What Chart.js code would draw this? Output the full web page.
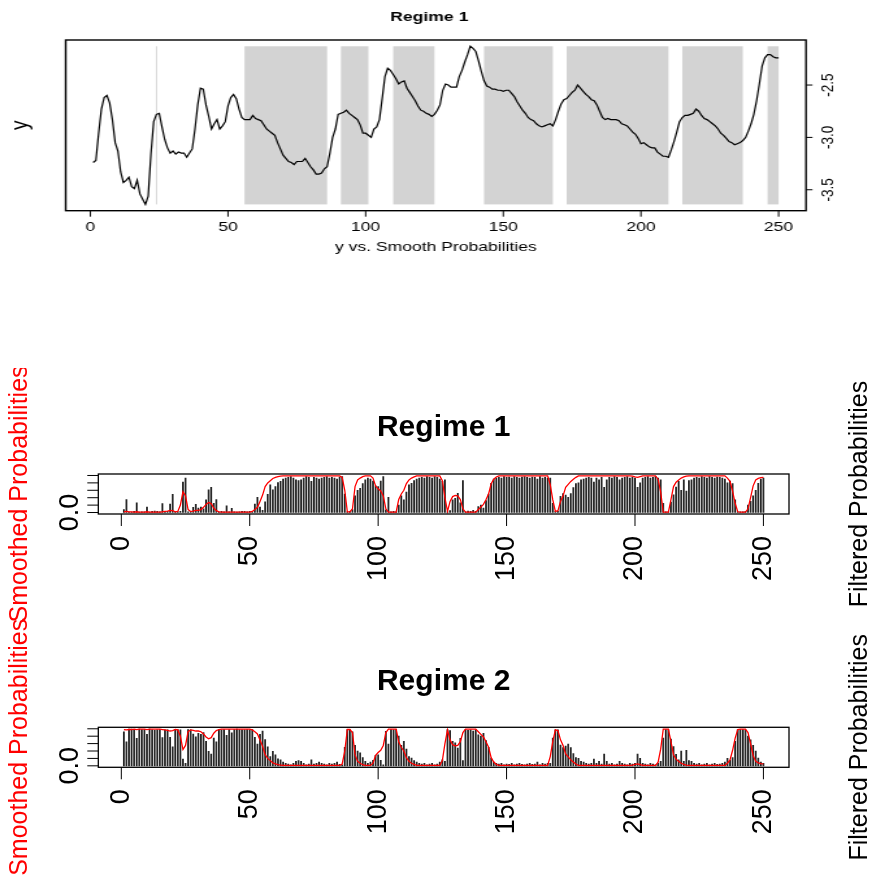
<!DOCTYPE html>
<html>
<head>
<meta charset="utf-8">
<script src="https://cdn.jsdelivr.net/npm/chart.js@4.4.0/dist/chart.umd.min.js"></script>
<style>
  html, body { margin: 0; padding: 0; background: #fff; }
  #wrap { position: relative; width: 872px; height: 880px; overflow: hidden; background: #fff; }
  canvas { position: absolute; left: 0; }
  /* the top panel is stretched sideways like in the original picture */
  #topChart { top: 0; transform: scaleX(1.2996); transform-origin: 0 0; }
  #chartA { top: 368px; }
  #chartB { top: 610px; }
</style>
</head>
<body>
<div id="wrap">
  <canvas id="topChart" width="671" height="262"></canvas>
  <canvas id="chartA" width="872" height="262"></canvas>
  <canvas id="chartB" width="872" height="270"></canvas>
</div>
<script>
// ---- data ----
var yValues = [
  -3.24,-3.22,-2.96,-2.73,-2.62,-2.60,-2.67,-2.83,-3.05,-3.13,
  -3.33,-3.43,-3.41,-3.38,-3.47,-3.49,-3.41,-3.54,-3.59,-3.64,
  -3.56,-3.16,-2.85,-2.78,-2.77,-2.90,-3.02,-3.10,-3.15,-3.13,
  -3.16,-3.14,-3.15,-3.15,-3.19,-3.15,-3.11,-2.92,-2.69,-2.53,
  -2.54,-2.69,-2.80,-2.92,-2.87,-2.83,-2.92,-2.89,-2.85,-2.70,
  -2.62,-2.59,-2.63,-2.73,-2.81,-2.83,-2.83,-2.83,-2.79,-2.82,
  -2.83,-2.84,-2.88,-2.92,-2.94,-2.96,-2.98,-3.05,-3.11,-3.17,
  -3.20,-3.23,-3.24,-3.26,-3.23,-3.23,-3.23,-3.20,-3.24,-3.28,
  -3.31,-3.35,-3.35,-3.34,-3.30,-3.28,-3.15,-3.00,-2.92,-2.78,
  -2.77,-2.76,-2.74,-2.77,-2.79,-2.81,-2.83,-2.88,-2.96,-2.96,
  -2.98,-3.00,-2.92,-2.90,-2.83,-2.63,-2.42,-2.34,-2.36,-2.40,
  -2.44,-2.49,-2.47,-2.46,-2.53,-2.57,-2.61,-2.65,-2.70,-2.74,
  -2.75,-2.77,-2.78,-2.80,-2.78,-2.74,-2.69,-2.55,-2.49,-2.50,
  -2.52,-2.52,-2.52,-2.42,-2.36,-2.28,-2.21,-2.13,-2.15,-2.18,
  -2.27,-2.37,-2.46,-2.51,-2.52,-2.54,-2.54,-2.55,-2.55,-2.56,
  -2.55,-2.55,-2.58,-2.61,-2.66,-2.70,-2.74,-2.77,-2.81,-2.83,
  -2.84,-2.87,-2.89,-2.90,-2.89,-2.88,-2.87,-2.89,-2.83,-2.75,
  -2.68,-2.64,-2.63,-2.60,-2.57,-2.55,-2.50,-2.53,-2.56,-2.59,
  -2.61,-2.64,-2.65,-2.69,-2.75,-2.81,-2.83,-2.82,-2.83,-2.83,
  -2.83,-2.84,-2.87,-2.88,-2.89,-2.92,-2.95,-2.97,-3.01,-3.06,
  -3.05,-3.07,-3.09,-3.10,-3.10,-3.14,-3.16,-3.18,-3.18,-3.19,
  -3.12,-3.04,-2.95,-2.85,-2.81,-2.79,-2.79,-2.78,-2.77,-2.73,
  -2.75,-2.79,-2.82,-2.83,-2.85,-2.87,-2.89,-2.92,-2.96,-2.98,
  -3.01,-3.04,-3.05,-3.07,-3.06,-3.05,-3.03,-3.00,-2.94,-2.87,
  -2.78,-2.65,-2.49,-2.32,-2.24,-2.21,-2.21,-2.23,-2.24,-2.24
];

// shaded spans of regime 1 (first and last observation)
var regimeStart = [24, 56, 91, 110, 143, 173, 215, 246];
var regimeEnd   = [24, 86, 101, 125, 168, 210, 237, 250];

var filtered1 = [
  0.08,0.35,0.01,0.01,0.03,0.26,0.01,0.02,0.02,0.15,
  0.01,0.03,0.04,0.03,0.02,0.24,0.03,0.03,0.23,0.49,
  0.02,0.02,0.03,0.82,0.93,0.02,0.03,0.14,0.22,0.12,
  0.15,0.10,0.34,0.61,0.68,0.25,0.35,0.02,0.03,0.02,
  0.18,0.02,0.11,0.02,0.01,0.02,0.03,0.03,0.02,0.03,
  0.02,0.23,0.41,0.15,0.06,0.29,0.49,0.75,0.61,0.70,
  0.81,0.84,0.90,0.93,0.95,0.97,0.93,0.88,0.86,0.88,
  0.93,0.97,0.95,0.84,0.95,0.93,0.90,0.93,0.95,0.97,
  0.93,0.95,0.93,0.90,0.96,0.97,0.50,0.02,0.03,0.08,
  0.45,0.60,0.65,0.78,0.88,0.93,0.90,0.85,0.72,0.70,
  0.85,0.97,0.07,0.41,0.02,0.03,0.02,0.20,0.45,0.34,
  0.55,0.75,0.79,0.86,0.90,0.93,0.95,0.93,0.97,0.95,
  0.93,0.97,0.95,0.90,0.84,0.88,0.02,0.05,0.34,0.38,
  0.52,0.26,0.86,0.02,0.04,0.03,0.06,0.03,0.16,0.20,
  0.12,0.32,0.50,0.79,0.90,0.93,0.95,0.93,0.97,0.95,
  0.96,0.93,0.97,0.95,0.93,0.96,0.97,0.95,0.93,0.96,
  0.95,0.90,0.97,0.93,0.95,0.93,0.93,0.25,0.03,0.03,
  0.44,0.51,0.47,0.41,0.51,0.67,0.78,0.80,0.88,0.90,
  0.93,0.95,0.93,0.82,0.93,0.88,0.95,0.68,0.88,0.95,
  0.93,0.97,0.95,0.88,0.93,0.95,0.97,0.93,0.95,0.93,
  0.68,0.80,0.93,0.95,0.97,0.93,0.95,0.97,0.93,0.88,
  0.25,0.02,0.02,0.28,0.48,0.69,0.84,0.60,0.88,0.58,
  0.86,0.88,0.93,0.95,0.93,0.97,0.95,0.93,0.97,0.95,
  0.93,0.96,0.95,0.93,0.90,0.80,0.85,0.78,0.34,0.02,
  0.02,0.02,0.03,0.20,0.30,0.45,0.60,0.79,0.90,0.93
];
var smoothed1 = [
  0.02,0.03,0.02,0.02,0.01,0.02,0.01,0.01,0.01,0.02,
  0.01,0.01,0.01,0.01,0.01,0.02,0.03,0.04,0.06,0.05,
  0.02,0.03,0.20,0.56,0.45,0.08,0.03,0.04,0.06,0.06,
  0.08,0.14,0.22,0.27,0.24,0.12,0.05,0.02,0.01,0.01,
  0.01,0.01,0.01,0.01,0.01,0.01,0.01,0.01,0.01,0.01,
  0.03,0.08,0.14,0.30,0.47,0.70,0.80,0.86,0.92,0.95,
  0.97,0.98,0.99,0.99,0.99,0.99,0.99,0.99,0.99,0.99,
  0.99,0.99,0.99,0.99,0.99,0.99,0.99,0.99,0.99,0.99,
  0.99,0.99,0.99,0.99,0.99,0.95,0.60,0.02,0.02,0.10,
  0.70,0.88,0.93,0.97,0.99,0.99,0.99,0.93,0.72,0.64,
  0.58,0.45,0.10,0.01,0.01,0.01,0.01,0.35,0.50,0.60,
  0.78,0.88,0.93,0.96,0.99,0.99,0.99,0.99,0.99,0.99,
  0.99,0.99,0.99,0.99,0.86,0.40,0.03,0.30,0.43,0.46,
  0.45,0.35,0.10,0.01,0.01,0.01,0.01,0.01,0.08,0.15,
  0.22,0.35,0.50,0.78,0.90,0.96,0.99,0.99,0.99,0.99,
  0.99,0.99,0.99,0.99,0.99,0.99,0.99,0.99,0.99,0.99,
  0.99,0.99,0.99,0.99,0.99,0.99,0.75,0.34,0.03,0.05,
  0.30,0.45,0.68,0.76,0.84,0.90,0.95,0.99,0.99,0.99,
  0.99,0.99,0.99,0.99,0.99,0.99,0.99,0.99,0.99,0.99,
  0.99,0.99,0.99,0.99,0.99,0.99,0.99,0.99,0.98,0.96,
  0.95,0.97,0.99,0.99,0.99,0.99,0.99,0.99,0.90,0.55,
  0.01,0.01,0.01,0.35,0.70,0.82,0.88,0.93,0.96,0.98,
  0.99,0.99,0.99,0.99,0.99,0.99,0.99,0.99,0.99,0.99,
  0.99,0.99,0.99,0.99,0.99,0.93,0.84,0.58,0.25,0.02,
  0.01,0.01,0.01,0.10,0.40,0.72,0.88,0.92,0.94,0.95
];
var filtered2 = [
  0.92,0.65,0.99,0.99,0.97,0.74,0.99,0.98,0.98,0.85,
  0.99,0.97,0.96,0.97,0.98,0.76,0.97,0.97,0.77,0.51,
  0.98,0.98,0.97,0.18,0.07,0.98,0.97,0.86,0.78,0.88,
  0.85,0.90,0.66,0.39,0.32,0.75,0.65,0.98,0.97,0.98,
  0.82,0.98,0.89,0.98,0.99,0.98,0.97,0.97,0.98,0.97,
  0.98,0.77,0.59,0.85,0.94,0.71,0.51,0.25,0.39,0.30,
  0.19,0.16,0.10,0.07,0.05,0.03,0.07,0.12,0.14,0.12,
  0.07,0.03,0.05,0.16,0.05,0.07,0.10,0.07,0.05,0.03,
  0.07,0.05,0.07,0.10,0.04,0.03,0.50,0.98,0.97,0.92,
  0.55,0.40,0.35,0.22,0.12,0.07,0.10,0.15,0.28,0.30,
  0.15,0.03,0.93,0.59,0.98,0.97,0.98,0.80,0.55,0.66,
  0.45,0.25,0.21,0.14,0.10,0.07,0.05,0.07,0.03,0.05,
  0.07,0.03,0.05,0.10,0.16,0.12,0.98,0.95,0.66,0.62,
  0.48,0.74,0.14,0.98,0.96,0.97,0.94,0.97,0.84,0.80,
  0.88,0.68,0.50,0.21,0.10,0.07,0.05,0.07,0.03,0.05,
  0.04,0.07,0.03,0.05,0.07,0.04,0.03,0.05,0.07,0.04,
  0.05,0.10,0.03,0.07,0.05,0.07,0.07,0.75,0.97,0.97,
  0.56,0.49,0.53,0.59,0.49,0.33,0.22,0.20,0.12,0.10,
  0.07,0.05,0.07,0.18,0.07,0.12,0.05,0.32,0.12,0.05,
  0.07,0.03,0.05,0.12,0.07,0.05,0.03,0.07,0.05,0.07,
  0.32,0.20,0.07,0.05,0.03,0.07,0.05,0.03,0.07,0.12,
  0.75,0.98,0.98,0.72,0.52,0.31,0.16,0.40,0.12,0.42,
  0.14,0.12,0.07,0.05,0.07,0.03,0.05,0.07,0.03,0.05,
  0.07,0.04,0.05,0.07,0.10,0.20,0.15,0.22,0.66,0.98,
  0.98,0.98,0.97,0.80,0.70,0.55,0.40,0.21,0.10,0.07
];
var smoothed2 = [
  0.98,0.97,0.98,0.98,0.99,0.98,0.99,0.99,0.99,0.98,
  0.99,0.99,0.99,0.99,0.99,0.98,0.97,0.96,0.94,0.95,
  0.98,0.97,0.80,0.44,0.55,0.92,0.97,0.96,0.94,0.94,
  0.92,0.86,0.78,0.73,0.76,0.88,0.95,0.98,0.99,0.99,
  0.99,0.99,0.99,0.99,0.99,0.99,0.99,0.99,0.99,0.99,
  0.97,0.92,0.86,0.70,0.53,0.30,0.20,0.14,0.08,0.05,
  0.03,0.02,0.01,0.01,0.01,0.01,0.01,0.01,0.01,0.01,
  0.01,0.01,0.01,0.01,0.01,0.01,0.01,0.01,0.01,0.01,
  0.01,0.01,0.01,0.01,0.01,0.05,0.40,0.98,0.98,0.90,
  0.30,0.12,0.07,0.03,0.01,0.01,0.01,0.07,0.28,0.36,
  0.42,0.55,0.90,0.99,0.99,0.99,0.99,0.65,0.50,0.40,
  0.22,0.12,0.07,0.04,0.01,0.01,0.01,0.01,0.01,0.01,
  0.01,0.01,0.01,0.01,0.14,0.60,0.97,0.70,0.57,0.54,
  0.55,0.65,0.90,0.99,0.99,0.99,0.99,0.99,0.92,0.85,
  0.78,0.65,0.50,0.22,0.10,0.04,0.01,0.01,0.01,0.01,
  0.01,0.01,0.01,0.01,0.01,0.01,0.01,0.01,0.01,0.01,
  0.01,0.01,0.01,0.01,0.01,0.01,0.25,0.66,0.97,0.95,
  0.70,0.55,0.32,0.24,0.16,0.10,0.05,0.01,0.01,0.01,
  0.01,0.01,0.01,0.01,0.01,0.01,0.01,0.01,0.01,0.01,
  0.01,0.01,0.01,0.01,0.01,0.01,0.01,0.01,0.02,0.04,
  0.05,0.03,0.01,0.01,0.01,0.01,0.01,0.01,0.10,0.45,
  0.99,0.99,0.99,0.65,0.30,0.18,0.12,0.07,0.04,0.02,
  0.01,0.01,0.01,0.01,0.01,0.01,0.01,0.01,0.01,0.01,
  0.01,0.01,0.01,0.01,0.01,0.07,0.16,0.42,0.75,0.98,
  0.99,0.99,0.99,0.90,0.60,0.28,0.12,0.08,0.06,0.05
];

var xTicks = [0, 50, 100, 150, 200, 250];
var yTicks = [-3.5, -3.0, -2.5];
var yTickLabels = ['-3.5', '-3.0', '-2.5'];
var probTicks = [0, 0.2, 0.4, 0.6, 0.8, 1.0];
var probTickLabels = ['0.0', '', '', '', '', ''];   // R drops the overlapping ones

var FONT = '"Liberation Sans", Arial, Helvetica, sans-serif';

// observation numbers 1..250
var obs = yValues.map(function(v, i) { return i + 1; });
function pairs(vals) {
  return vals.map(function(v, i) { return { x: obs[i], y: v }; });
}

function rotText(ctx, txt, x, y, align) {
  ctx.save();
  ctx.translate(x, y);
  ctx.rotate(-Math.PI / 2);
  ctx.textAlign = align;
  ctx.textBaseline = 'middle';
  ctx.fillText(txt, 0, 0);
  ctx.restore();
}

// ---------- top panel: y with shaded regime 1 spans ----------
var yMin = Math.min.apply(null, yValues);
var yMax = Math.max.apply(null, yValues);

var shadePlugin = {
  id: 'shade',
  beforeDatasetsDraw: function(chart) {
    var ctx = chart.ctx, x = chart.scales.x, y = chart.scales.y;
    var top = y.getPixelForValue(yMax), bot = y.getPixelForValue(yMin);
    ctx.save();
    for (var i = 0; i < regimeStart.length; i++) {
      var x0 = x.getPixelForValue(regimeStart[i]);
      var x1 = x.getPixelForValue(regimeEnd[i]);
      if (x1 - x0 < 1) {
        ctx.fillStyle = '#cccccc';
        ctx.fillRect(x0 - 0.4, top, 0.8, bot - top);
      } else {
        ctx.fillStyle = '#d3d3d3';
        ctx.fillRect(x0, top, x1 - x0, bot - top);
      }
    }
    ctx.restore();
  }
};

var topAxes = {
  id: 'topAxes',
  afterDraw: function(chart) {
    var ctx = chart.ctx, a = chart.chartArea, x = chart.scales.x, y = chart.scales.y;
    ctx.save();
    ctx.strokeStyle = '#000';
    ctx.lineWidth = 1.4;
    ctx.strokeRect(a.left, a.top, a.right - a.left, a.bottom - a.top);
    ctx.lineWidth = 1;
    ctx.beginPath();
    xTicks.forEach(function(v) {
      var px = x.getPixelForValue(v);
      ctx.moveTo(px, a.bottom); ctx.lineTo(px, a.bottom + 6);
    });
    yTicks.forEach(function(v) {
      var py = y.getPixelForValue(v);
      ctx.moveTo(a.right, py); ctx.lineTo(a.right + 5, py);
    });
    ctx.stroke();

    ctx.fillStyle = '#000';
    ctx.font = '13.5px ' + FONT;
    ctx.textAlign = 'center';
    ctx.textBaseline = 'top';
    xTicks.forEach(function(v) {
      ctx.fillText(String(v), x.getPixelForValue(v), a.bottom + 10);
    });
    yTicks.forEach(function(v, i) {
      rotText(ctx, yTickLabels[i], a.right + 17, y.getPixelForValue(v), 'center');
    });
    var cx = (a.left + a.right) / 2;
    ctx.textBaseline = 'middle';
    ctx.fillText('y vs. Smooth Probabilities', cx, 247);
    ctx.font = 'bold 13.5px ' + FONT;
    ctx.fillText('Regime 1', cx - 5, 17);
    ctx.font = '19px ' + FONT;
    rotText(ctx, 'y', 15.4, (a.top + a.bottom) / 2, 'center');
    ctx.restore();
  }
};

new Chart(document.getElementById('topChart'), {
  type: 'line',
  data: {
    datasets: [{
      data: pairs(yValues),
      borderColor: '#000',
      borderWidth: 1.2,
      pointRadius: 0,
      tension: 0
    }]
  },
  options: {
    responsive: false,
    animation: false,
    layout: { padding: { left: 50.55, right: 50.8, top: 40, bottom: 51.3 } },
    plugins: { legend: { display: false }, tooltip: { enabled: false } },
    scales: {
      x: { type: 'linear', display: false, min: -8.96, max: 259.96 },
      y: { type: 'linear', display: false, min: -3.70, max: -2.07 }
    }
  },
  plugins: [shadePlugin, topAxes]
});

// ---------- bottom panels: filtered (bars) and smoothed (red) ----------
function probAxes(title, titleY) {
  return {
    id: 'probAxes',
    afterDraw: function(chart) {
      var ctx = chart.ctx, a = chart.chartArea, x = chart.scales.x, y = chart.scales.y;
      ctx.save();
      ctx.strokeStyle = '#000';
      ctx.lineWidth = 1.3;
      ctx.strokeRect(a.left, a.top, a.right - a.left, a.bottom - a.top);
      ctx.lineWidth = 1;
      ctx.beginPath();
      xTicks.forEach(function(v) {
        var px = x.getPixelForValue(v);
        ctx.moveTo(px, a.bottom); ctx.lineTo(px, a.bottom + 12);
      });
      probTicks.forEach(function(v) {
        var py = y.getPixelForValue(v);
        ctx.moveTo(a.left, py); ctx.lineTo(a.left - 11, py);
      });
      ctx.stroke();

      ctx.fillStyle = '#000';
      ctx.font = '27px ' + FONT;
      xTicks.forEach(function(v) {
        rotText(ctx, String(v), x.getPixelForValue(v), a.bottom + 22, 'right');
      });
      probTicks.forEach(function(v, i) {
        if (probTickLabels[i]) rotText(ctx, probTickLabels[i], a.left - 28, y.getPixelForValue(v), 'center');
      });
      var cy = (a.top + a.bottom) / 2;
      ctx.font = 'bold 30px ' + FONT;
      ctx.textAlign = 'center';
      ctx.textBaseline = 'middle';
      ctx.fillText(title, (a.left + a.right) / 2, titleY);
      ctx.font = '25px ' + FONT;
      rotText(ctx, 'Filtered Probabilities', 860, cy, 'center');
      ctx.fillStyle = '#ff0000';
      rotText(ctx, 'Smoothed Probabilities', 20, cy, 'center');
      ctx.restore();
    }
  };
}

function probChart(id, filtered, smoothed, title, titleY, padTop, padBottom) {
  return new Chart(document.getElementById(id), {
    type: 'bar',
    data: {
      datasets: [{
        type: 'line',
        data: pairs(smoothed),
        borderColor: '#ff0000',
        borderWidth: 1.3,
        pointRadius: 0,
        tension: 0,
        order: 0
      }, {
        type: 'bar',
        data: pairs(filtered),
        backgroundColor: '#2b2b2b',
        barThickness: 1.2,
        order: 1
      }]
    },
    options: {
      responsive: false,
      animation: false,
      layout: { padding: { left: 98.3, right: 83, top: padTop, bottom: padBottom } },
      plugins: { legend: { display: false }, tooltip: { enabled: false } },
      scales: {
        x: { type: 'linear', display: false, offset: false, min: -8.96, max: 259.96 },
        y: { type: 'linear', display: false, min: -0.04, max: 1.04 }
      }
    },
    plugins: [probAxes(title, titleY)]
  });
}

probChart('chartA', filtered1, smoothed1, 'Regime 1', 60, 106, 116);
probChart('chartB', filtered2, smoothed2, 'Regime 2', 72, 117.3, 112.7);
</script>
</body>
</html>
